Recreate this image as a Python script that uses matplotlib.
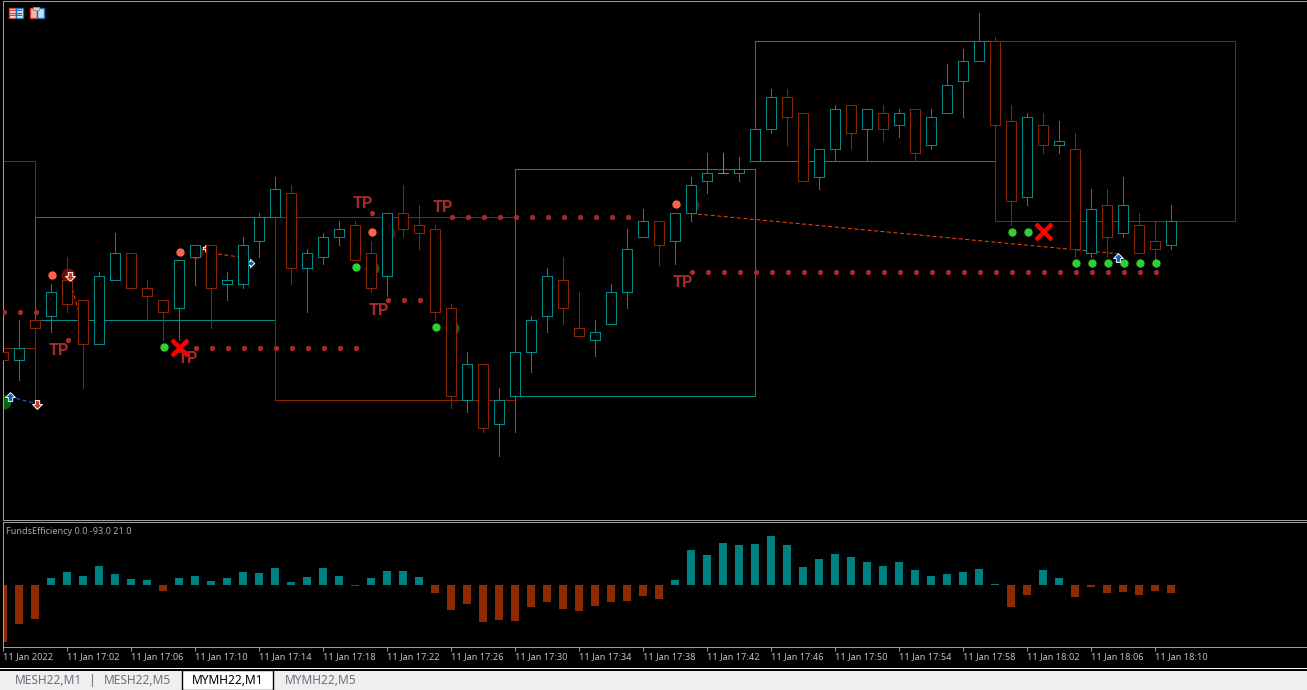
import matplotlib
matplotlib.use("Agg")
import matplotlib.pyplot as plt
from matplotlib.patches import Rectangle
from matplotlib.path import Path
from matplotlib.transforms import Affine2D

# ==========================
# 1. DATA (rows on the price panel)
# ==========================

bar_dir = ["D", "U", "D", "U", "D", "D", "U", "U", "D", "D",
           "D", "U", "U", "D", "U", "U", "U", "U", "D", "U",
           "U", "U", "D", "D", "U", "D", "D", "D", "D", "U",
           "D", "U", "U", "U", "U", "D", "D", "U", "U", "U",
           "U", "D", "U", "U", "U", "F", "U", "U", "U", "D",
           "D", "U", "U", "D", "U", "D", "U", "D", "U", "U",
           "U", "U", "D", "D", "U", "D", "U", "D", "U", "D",
           "U", "D", "D", "U"]

body_top = [352, 348, 320, 292, 280, 300, 276, 253, 253, 288,
            300, 260, 245, 245, 280, 245, 217, 189, 193, 253,
            237, 229, 225, 253, 213, 213, 225, 229, 308, 364,
            364, 400, 352, 320, 276, 280, 328, 332, 292, 249,
            221, 221, 213, 185, 173, 173, 169, 129, 97, 97,
            113, 149, 109, 105, 109, 113, 113, 109, 117, 85,
            61, 41, 41, 121, 117, 125, 141, 149, 209, 205,
            205, 225, 241, 221]
body_bot = [360, 360, 328, 316, 304, 344, 344, 280, 288, 296,
            312, 308, 257, 288, 284, 284, 241, 217, 268, 268,
            257, 237, 260, 288, 276, 229, 233, 312, 396, 400,
            428, 424, 396, 352, 316, 308, 336, 340, 324, 292,
            237, 245, 241, 213, 181, 173, 173, 161, 129, 117,
            181, 177, 149, 133, 129, 129, 125, 153, 145, 113,
            81, 61, 125, 201, 197, 145, 145, 249, 253, 237,
            233, 253, 249, 245]
wick_top = [352, 320, 320, 284, 257, 300, 272, 233, 253, 280,
            300, 260, 245, 245, 272, 237, 213, 177, 185, 249,
            233, 221, 221, 241, 213, 185, 205, 225, 304, 352,
            364, 388, 348, 316, 268, 257, 292, 320, 284, 229,
            209, 221, 213, 177, 153, 153, 157, 129, 89, 89,
            113, 149, 105, 105, 109, 105, 109, 109, 109, 64,
            49, 13, 37, 105, 113, 113, 121, 133, 189, 189,
            177, 213, 221, 205]
wick_bot = [360, 380, 408, 332, 312, 388, 344, 280, 288, 320,
            340, 340, 285, 328, 300, 288, 257, 217, 284, 312,
            264, 245, 260, 292, 296, 237, 249, 320, 408, 412,
            432, 456, 432, 372, 332, 324, 336, 356, 324, 308,
            237, 265, 264, 221, 193, 173, 181, 161, 133, 145,
            181, 189, 161, 149, 161, 141, 137, 161, 149, 113,
            117, 61, 133, 225, 205, 153, 153, 257, 257, 257,
            237, 253, 261, 249]

funds = [-93, -63.6, -55.5, 11.4, 21.2, 14.7, 31, 18, 9.8, 8.2,
         -9.8, 11.4, 14.7, 6.5, 11.4, 21.2, 19.6, 27.7, 4.9, 13,
         27.7, 14.7, -1.6, 11.4, 22.8, 22.8, 13, -13, -40.8, -31,
         -60.4, -57, -58.7, -35.9, -27.7, -39.2, -42.4, -34.3, -27.7, -26.1,
         -17.9, -22.8, 8.2, 57, 48.9, 68.5, 65.3, 66.9, 79.9, 65.3,
         29.4, 42.4, 50.6, 45.7, 37.5, 31, 37.5, 24.5, 14.7, 17.9,
         21.2, 26.1, 1.6, -35.9, -16.3, 24.5, 11.4, -19.6, -3.3, -13,
         -11.4, -16.3, -9.8, -13]

# session boxes: first bar, last bar, top row, bottom row, colour key
box_start = [-13, 2, 17, 32, 47, 62]
box_end = [2, 17, 32, 47, 62, 77]
box_top = [161, 217, 217, 169, 41, 41]
box_bot = [348, 320, 400, 396, 161, 221]
box_dir = ["D", "U", "D", "U", "U", "D"]

dot_rows = [312, 340, 348, 213, 300, 217, 272]
dot_bars = [[0, 1, 2], [4], list(range(12, 23)), [23], [24, 25, 26],
            list(range(28, 40)), list(range(43, 73))]

tomato_bars = [3, 11, 23, 42]
tomato_rows = [275, 252, 232, 204]
maroon_bars = [4, 12, 24, 43]
maroon_rows = [275, 252, 233, 205]
lime_bars = [10, 22, 27, 63, 64, 67, 68, 69, 70, 71, 72]
lime_rows = [347, 267, 327, 232, 232, 263, 263, 263, 263, 263, 263]
dkgreen_bars = [0, 23, 28]
dkgreen_rows = [402, 268, 328]
cross_bars = [11, 65]
cross_rows = [348, 232]

tp_bars = [3.45, 11.48, 22.45, 27.45, 23.45, 42.45]
tp_rows = [350.5, 358.5, 203.5, 207.5, 310.5, 282.5]

trade_x0 = [0.42, 4.2, 12.6, 43]
trade_x1 = [2.1, 5, 15.4, 69.7]
trade_y0 = [397, 283, 252.5, 213.7]
trade_y1 = [404, 327, 258.5, 254]
trade_col = ["#1c6fd0", "#ff4500", "#ff4500", "#ff4500"]

tick_bars = list(range(0, 74, 4))
tick_labels = ["11 Jan 2022", "11 Jan 17:02", "11 Jan 17:06", "11 Jan 17:10", "11 Jan 17:14",
               "11 Jan 17:18", "11 Jan 17:22", "11 Jan 17:26", "11 Jan 17:30", "11 Jan 17:34",
               "11 Jan 17:38", "11 Jan 17:42", "11 Jan 17:46", "11 Jan 17:50", "11 Jan 17:54",
               "11 Jan 17:58", "11 Jan 18:02", "11 Jan 18:06", "11 Jan 18:10"]

# ==========================
# 2. STYLE + FIGURE
# ==========================

TEAL = "#008b8b"
RUST = "#8b2500"
BAR_TEAL = "#008080"
BAR_RUST = "#8f2900"
GREY = "#a0a0a0"
TXT = "#c0c0c0"
LW = 0.715
col = {"U": TEAL, "D": RUST, "F": "#00e000"}

W, H = 1307, 690
plt.rcParams["font.family"] = ["Noto Sans", "DejaVu Sans"]

fig = plt.figure(figsize=(W / 100, H / 100), dpi=100, facecolor="black")


def panel(left, top, right, bottom):
    a = fig.add_axes([left / W, 1 - bottom / H, (right - left) / W, (bottom - top) / H])
    a.set_facecolor("black")
    a.set_xlim((left - 3.2) / 16, (right - 3.2) / 16)
    return a


# ==========================
# 3. PRICE PANEL
# ==========================

ax = panel(3, 1, W, 520)
ax.set_ylim(520.2, 1.2)
ax.set_xticks([])
ax.set_yticks([])
for s in ax.spines.values():
    s.set_color(GREY)
    s.set_linewidth(LW)
ax.spines["right"].set_visible(False)

# round markers land a bit left of the lines otherwise
mark_tf = ax.transData + Affine2D().translate(0.8, -0.2)

for x0, x1, t, b, d in zip(box_start, box_end, box_top, box_bot, box_dir):
    ax.add_patch(Rectangle((x0, t), x1 - x0, b - t, fill=False, ec=col[d], lw=LW,
                           antialiased=False, zorder=1))

for x0, x1, y0, y1, c in zip(trade_x0, trade_x1, trade_y0, trade_y1, trade_col):
    ax.plot([x0, x1], [y0, y1], color=c, lw=LW, dashes=(4, 2.6), zorder=2)

ax.plot(maroon_bars, maroon_rows, "o", color="#6e0b0b", ms=10, mew=0, zorder=2, transform=mark_tf)
ax.plot(dkgreen_bars, dkgreen_rows, "o", color="#0a6410", ms=10, mew=0, zorder=2, transform=mark_tf)

colors = [col[d] for d in bar_dir]
idx = list(range(len(bar_dir)))
ax.vlines(idx, wick_top, wick_bot, colors=colors, lw=LW, antialiased=False, zorder=3)
heights = [b - t for t, b in zip(body_top, body_bot)]
ax.bar(idx, heights, bottom=body_top, width=0.625, facecolor="black", edgecolor=colors,
       linewidth=LW, antialiased=False, zorder=4)

for row, bars in zip(dot_rows, dot_bars):
    ax.plot(bars, [row] * len(bars), "o", color="#a52a2a", ms=3.8, mew=0, zorder=5, transform=mark_tf)

ax.plot(tomato_bars, tomato_rows, "o", color="#ff6347", ms=6, mew=0, zorder=5, transform=mark_tf)
ax.plot(lime_bars, lime_rows, "o", color="#32cd32", ms=6, mew=0, zorder=5, transform=mark_tf)
ax.plot(cross_bars, cross_rows, "x", color="#ff0000", ms=11, mew=3.2, zorder=7, transform=mark_tf)

for x, y in zip(tp_bars, tp_rows):
    ax.text(x, y, "TP", color="#a52a2a", fontsize=11.5, fontweight="bold", ha="center", va="center",
            family=["Roboto", "Liberation Sans"], zorder=6, transform=mark_tf)

# little trade arrows
up_arrow = Path([(0, 1), (1, 0), (0.45, 0), (0.45, -0.8), (-0.45, -0.8), (-0.45, 0), (-1, 0), (0, 1)], closed=True)
dn_arrow = Path([(0, -1), (1, 0), (0.45, 0), (0.45, 0.8), (-0.45, 0.8), (-0.45, 0), (-1, 0), (0, -1)], closed=True)
rt_arrow = Path([(1, 0), (0, 1), (0, 0.45), (-0.8, 0.45), (-0.8, -0.45), (0, -0.45), (0, -1), (1, 0)], closed=True)
ax.plot([0.42, 69.7], [397, 258], ls="", marker=up_arrow, ms=7, mfc="#0a5fb4", mec="white", mew=0.7, zorder=6)
ax.plot([2.1, 4.2], [404, 276], ls="", marker=dn_arrow, ms=7, mfc="#e03010", mec="white", mew=0.7, zorder=6)
ax.plot([12.6], [248], ls="", marker=rt_arrow, ms=4, mfc="#e03010", mec="white", mew=0.7, zorder=3)
ax.plot([15.4], [263], ls="", marker=rt_arrow, ms=6, mfc="#0a5fb4", mec="white", mew=0.7, zorder=3)

# ==========================
# 4. FUNDS EFFICIENCY PANEL
# ==========================

ax2 = panel(3, 522, W, 647)
ax2.set_ylim(-101.1, 102.8)
bar_colors = [BAR_TEAL if v > 0 else BAR_RUST for v in funds]
ax2.bar(idx, funds, width=0.5, color=bar_colors, linewidth=0, antialiased=False)
ax2.set_yticks([])
for s in ax2.spines.values():
    s.set_color(GREY)
    s.set_linewidth(LW)
ax2.spines["right"].set_visible(False)
ax2.set_xticks(tick_bars, labels=tick_labels, ha="left", color=TXT, fontsize=6.6)
ax2.tick_params(axis="x", length=3, width=LW, color=GREY, pad=0.4)

# ==========================
# 5. WINDOW CHROME
# ==========================

ui = fig.add_axes([0, 0, 1, 1], facecolor="none")
ui.set_xlim(0, W)
ui.set_ylim(H, 0)
ui.axis("off")

ui.text(6.5, 531.5, "FundsEfficiency 0.0 -93.0 21.0", color="#a8a8a8", fontsize=6.55, va="center")

ui.add_patch(Rectangle((0, 668), W, 22, color="white", lw=0))
ui.add_patch(Rectangle((0, 669), W, 2, color="black", lw=0))
ui.add_patch(Rectangle((0, 671), W, 19, color="#efefef", lw=0))
ui.add_patch(Rectangle((181.5, 670), 91, 20, fc="white", ec="black", lw=1))
ui.plot([91.5, 91.5], [674, 686], color="#808080", lw=0.8)

tab_x = [15, 104, 192, 285]
tab_names = ["MESH22,M1", "MESH22,M5", "MYMH22,M1", "MYMH22,M5"]
tab_cols = ["#6e6e80", "#6e6e80", "black", "#6e6e80"]
for x, name, c in zip(tab_x, tab_names, tab_cols):
    ui.text(x, 680.5, name, color=c, fontsize=8.6, va="center")

# toolbar icons
ui.add_patch(Rectangle((8.5, 7.5), 7, 10, fc="white", ec="#e03c30", lw=1))
ui.add_patch(Rectangle((15.5, 7.5), 7, 10, fc="white", ec="#1c6fb0", lw=1))
for r in [10, 12.5, 15]:
    ui.plot([10, 15], [r, r], color="#e03c30", lw=1)
    ui.plot([16, 21], [r, r], color="#1c6fb0", lw=1)
ui.add_patch(Rectangle((29.5, 7.5), 7, 10, fc="#f5b8b0", ec="#e03c30", lw=1))
ui.add_patch(Rectangle((36.5, 7.5), 7, 10, fc="#bfe0f5", ec="#1c6fb0", lw=1))
ui.add_patch(Rectangle((33, 7), 6, 3, fc="#d0d0d0", ec="#909090", lw=0.6))

fig.savefig("out.png", dpi=100, facecolor="black")
